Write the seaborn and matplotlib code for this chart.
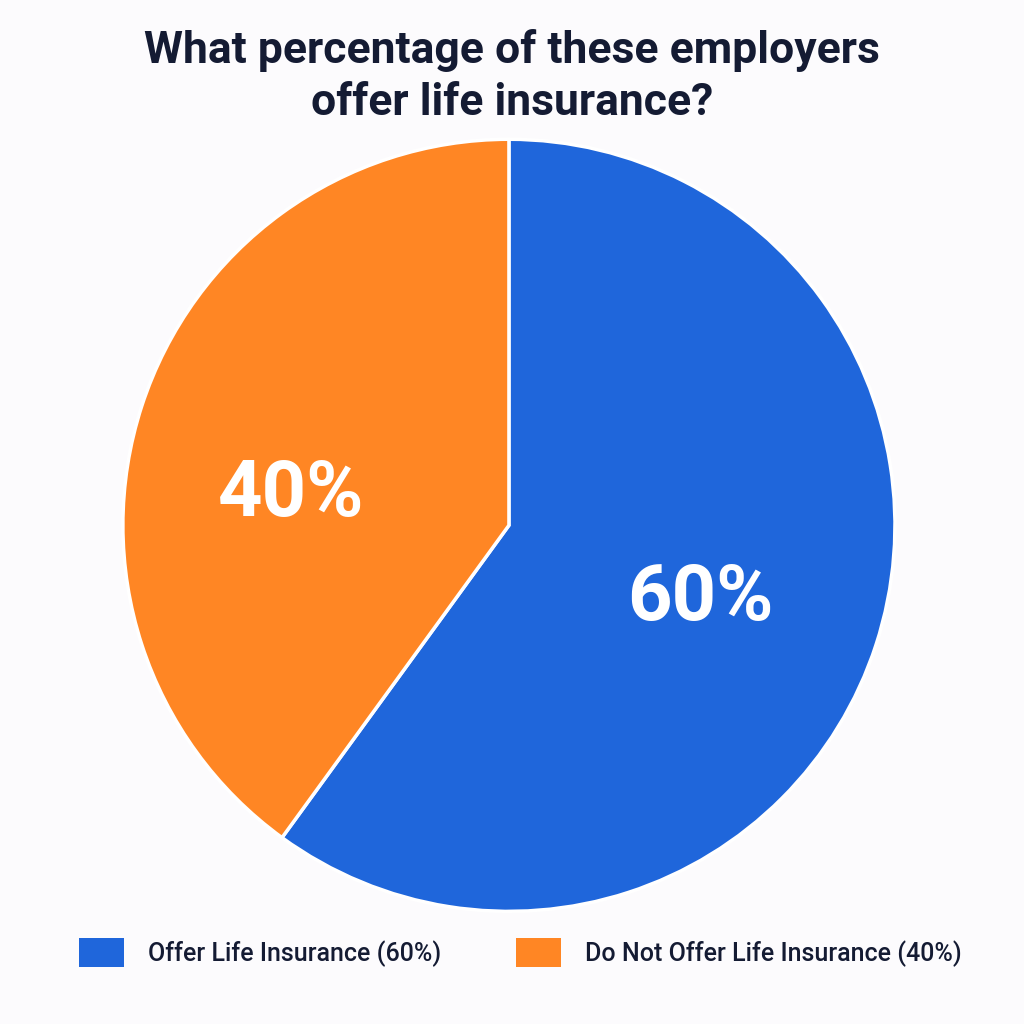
import matplotlib
matplotlib.use("Agg")
import matplotlib.pyplot as plt
import seaborn as sns
import numpy as np

categories = ["Offer Life Insurance", "Do Not Offer Life Insurance"]
values = [60, 40]
colors = ["#1F66DB", "#FF8624"]
title = "What percentage of these employers\noffer life insurance?"

sns.set_theme(style="white")
plt.rcParams['font.family'] = ['Roboto', 'DejaVu Sans']

bg = "#FCFBFD"
fig = plt.figure(figsize=(10.24, 10.24), dpi=100, facecolor=bg)
ax = fig.add_axes([0.497 - 0.377, 0.487 - 0.377, 0.754, 0.754])
ax.set_facecolor(bg)

wedges, texts, autotexts = ax.pie(
    values, colors=colors, startangle=90, counterclock=False,
    autopct=lambda p: f"{p:.0f}%", pctdistance=0.55,
    wedgeprops=dict(edgecolor="white", linewidth=2.5),
    textprops=dict(color="white", fontsize=56, fontweight="bold"),
)
# nudge label placement (angle offset in degrees, radial distance)
label_place = [(-3, 0.53), (10, 0.57)]
for w, t, (dang, r) in zip(wedges, autotexts, label_place):
    mid = np.deg2rad((w.theta1 + w.theta2) / 2 + dang)
    t.set_position((r * np.cos(mid), r * np.sin(mid)))

ax.set_xlim(-1, 1)
ax.set_ylim(-1, 1)
ax.set_aspect("equal")
ax.axis("off")

fig.suptitle(title, fontsize=32, fontweight="bold", color="#141B33",
             y=0.972, linespacing=1.3)

labels = [f"{c} ({v}%)" for c, v in zip(categories, values)]
leg = fig.legend(wedges, labels, loc="center", bbox_to_anchor=(0.508, 0.07),
                 ncol=2, frameon=False, prop=dict(size=18, weight="medium"),
                 handlelength=1.8, handleheight=1.4, handletextpad=0.95,
                 columnspacing=3.0, labelcolor="#141B33")
for h in leg.legend_handles:
    h.set_edgecolor("none")

fig.savefig("out.png", dpi=100, facecolor=bg)
